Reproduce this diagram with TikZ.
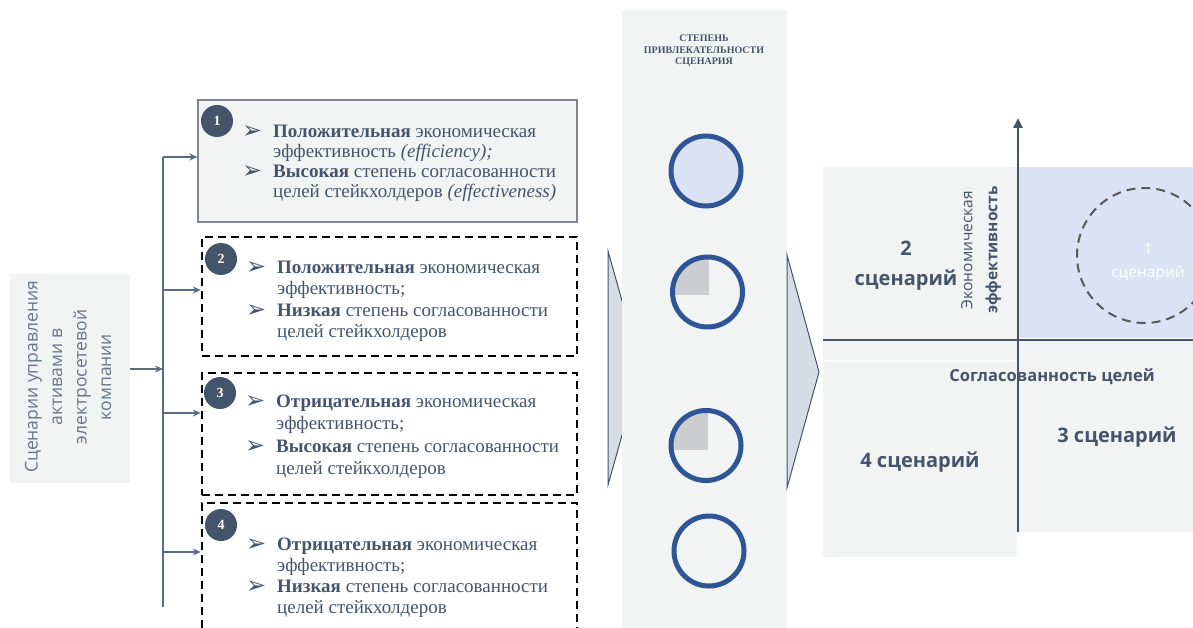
\documentclass[tikz,border=0pt]{standalone}
\usepackage{fontspec}
\setmainfont{Liberation Serif}
\newfontfamily\opensans{Open Sans}
\newfontfamily\dejavu{DejaVu Sans}
\usetikzlibrary{arrows.meta,positioning,calc}

\definecolor{slate}{HTML}{44546A}
\definecolor{softslate}{HTML}{66758A}
\definecolor{paleg}{HTML}{F2F3F3}
\definecolor{paleb}{HTML}{DAE3F3}
\definecolor{ringb}{HTML}{2F5597}
\definecolor{chev}{HTML}{D6DCE5}
\definecolor{quart}{HTML}{CCCDD0}
\definecolor{flowc}{HTML}{5B6B82}
\definecolor{framec}{HTML}{7F8591}

\newcommand{\bul}{\makebox[29pt][l]{\raisebox{-1pt}{\hspace*{-2pt}\dejavu\fontsize{24}{24}\selectfont ➢}}}
\newcommand{\ind}{\hspace*{29pt}}
\newcommand{\scentext}[2]{\begin{minipage}[t]{340pt}\fontsize{19}{#1}\selectfont #2\end{minipage}}

\begin{document}
\begin{tikzpicture}[x=1pt,y=-1pt,
  box/.style={minimum width=375pt, minimum height=120pt, inner sep=0pt},
  dbox/.style={box, draw=black, line width=2.4pt, dash pattern=on 8pt off 5pt},
  badge/.style={circle, fill=slate, minimum size=32pt, inner sep=0pt, text=white, font=\bfseries\fontsize{14}{14}\selectfont},
  txt/.style={anchor=base west, inner sep=0pt, text=slate},
  ring/.style={circle, draw=ringb, line width=5pt, minimum size=70pt, inner sep=0pt},
  flow/.style={draw=flowc, line width=1.3pt, -{Stealth[length=8pt,width=7pt]}},
  axis/.style={draw=slate, line width=2.6pt},
  qlab/.style={text=slate, align=center, font=\opensans\bfseries\fontsize{20}{30}\selectfont}
]
\useasboundingbox (0,0) rectangle (1193,628);
\clip (0,0) rectangle (1193,628);

% Left block
\node[fill=paleg, minimum width=120pt, minimum height=209pt] (lbox) at (70,378.5) {};
\node[rotate=90, align=center, text=softslate, font=\opensans\fontsize{17.5}{24.5}\selectfont] (ltxt) at (68,377)
  {Сценарии управления\\активами в\\электросетевой\\компании};

% Trunk and branches
\coordinate (hub) at (163,369);
\coordinate (ttop) at (163,157);
\coordinate (tbot) at (163,607);
\draw[draw=flowc, line width=1.3pt] (ttop) -- (tbot);
\draw[flow] (lbox.east |- hub) -- (hub);

% Scenario boxes
\node[box, fill=paleg, draw=framec, line width=1.3pt, minimum width=379pt, minimum height=122pt] (b1) at (387.5,161) {};
\node[dbox, minimum height=119pt] (b2) at (389.5,296.5) {};
\node[dbox, minimum height=122pt] (b3) at (389.5,434) {};
\node[dbox, minimum height=134pt] (b4) at (389.5,570) {};

\coordinate (t1) at (163,157);
\coordinate (t2) at (163,290);
\coordinate (t3) at (163,413);
\coordinate (t4) at (163,552);
\foreach \i in {1,...,4} \draw[flow] (t\i) -- (t\i -| b\i.west);

\node[badge] (n1) at (217,121) {1};
\node[badge] (n2) at (221,259) {2};
\node[badge] (n3) at (220,393) {3};
\node[badge] (n4) at (221,525) {4};

\node[txt] (s1) at (244,138) {\scentext{20}{%
  \bul\textbf{Положительная} экономическая\\
  \ind эффективность \textit{(efficiency);}\\
  \bul\textbf{Высокая} степень согласованности\\
  \ind целей стейкхолдеров \textit{(effectiveness)}}};
\node[txt] (s2) at (248,273) {\scentext{21.5}{%
  \bul\textbf{Положительная} экономическая\\
  \ind эффективность;\\
  \bul\textbf{Низкая} степень согласованности\\
  \ind целей стейкхолдеров}};
\node[txt] (s3) at (247,407) {\scentext{22.5}{%
  \bul\textbf{Отрицательная} экономическая\\
  \ind эффективность;\\
  \bul\textbf{Высокая} степень согласованности\\
  \ind целей стейкхолдеров}};
\node[txt] (s4) at (248,550) {\scentext{21}{%
  \bul\textbf{Отрицательная} экономическая\\
  \ind эффективность;\\
  \bul\textbf{Низкая} степень согласованности\\
  \ind целей стейкхолдеров}};

% Chevrons and middle column
\filldraw[fill=chev, draw=slate, line width=1pt] (608,251) -- (641,368) -- (608,485) -- cycle;
\fill[paleg] (622,10) rectangle (787,640);
\filldraw[fill=chev, draw=slate, line width=1pt] (787,255) -- (819,372) -- (787,488) -- cycle;

\node[align=center, text=slate, font=\bfseries\fontsize{10}{11.5}\selectfont] (head) at (704,51)
  {СТЕПЕНЬ\\ПРИВЛЕКАТЕЛЬНОСТИ\\СЦЕНАРИЯ};

% Attractiveness circles
\coordinate (c2c) at (707.5,292);
\coordinate (c3c) at (706,445.5);
\begin{scope}
  \clip (c2c) circle (35);
  \fill[quart] ($(c2c)+(1,3)$) rectangle ++(-36,-38);
\end{scope}
\begin{scope}
  \clip (c3c) circle (35);
  \fill[quart] ($(c3c)+(2,4)$) rectangle ++(-37,-39);
\end{scope}
\node[ring, fill=paleb] (c1) at (706,171) {};
\node[ring] (c2) at (c2c) {};
\node[ring] (c3) at (c3c) {};
\node[ring] (c4) at (709,551) {};

% Matrix
\fill[paleg] (823,167) rectangle (1018,360);
\fill[paleb] (1018,167) rectangle (1193,338);
\fill[paleg] (1018,340) rectangle (1193,532);
\fill[paleg] (823,362) rectangle (1017,557);

\draw[draw=black!65, line width=2pt, dash pattern=on 9pt off 6pt] (1144.5,255.5) circle (67.5);

\coordinate (xl) at (823,340);
\coordinate (xr) at (1193,340);
\coordinate (yb) at (1018,532);
\coordinate (yt) at (1018,118);
\draw[axis] (xl) -- (xr);
\draw[axis, -{Triangle[length=10pt,width=9pt]}] (yb) -- (yt);

\node[qlab] (q2) at (906,266) {2\\сценарий};
\node[rotate=90, align=center, text=slate, font=\opensans\fontsize{15.5}{25}\selectfont] (yl) at (981,250)
  {Экономическая\\\textbf{эффективность}};
\node[align=center, text=white, font=\opensans\fontsize{15.5}{23}\selectfont] (q1) at (1148,262) {1\\сценарий};
\node[text=slate, font=\opensans\bfseries\fontsize{16.5}{16.5}\selectfont] (xlab) at (1052,377) {Согласованность целей};
\node[qlab] (q3) at (1117,437) {3 сценарий};
\node[qlab] (q4) at (920,462) {4 сценарий};
\end{tikzpicture}
\end{document}
